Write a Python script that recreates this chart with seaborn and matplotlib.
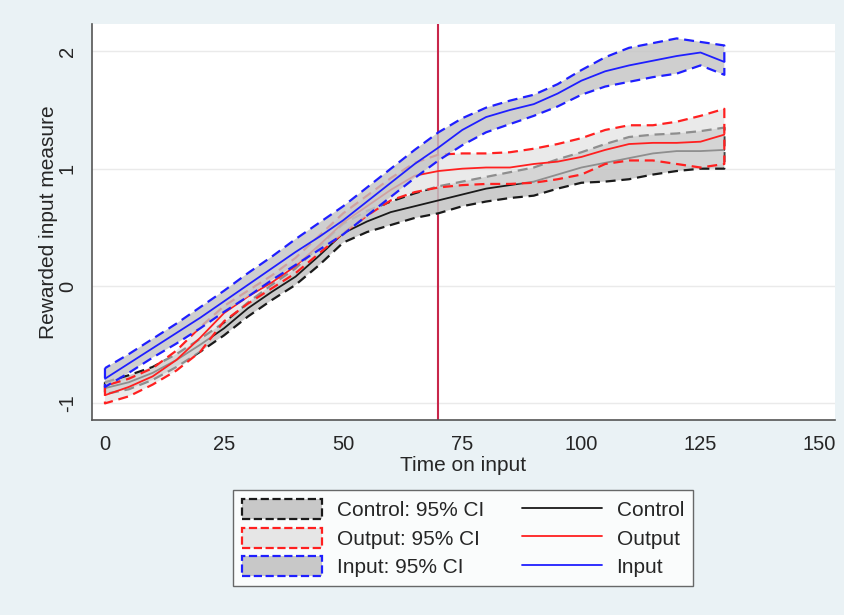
import matplotlib
matplotlib.use("Agg")
import matplotlib.pyplot as plt
from matplotlib.patches import Patch
from matplotlib.lines import Line2D
from matplotlib.colors import to_rgba
import seaborn as sns

# time on input (every 5 units)
time = [0, 5, 10, 15, 20, 25, 30, 35, 40, 45, 50, 55, 60, 65, 70,
        75, 80, 85, 90, 95, 100, 105, 110, 115, 120, 125, 130]

control = [-0.87, -0.82, -0.74, -0.63, -0.50, -0.36, -0.19, -0.05, 0.08, 0.26, 0.45, 0.55, 0.63, 0.68, 0.73,
           0.78, 0.83, 0.86, 0.89, 0.95, 1.01, 1.05, 1.09, 1.13, 1.15, 1.15, 1.16]
control_hi = [-0.82, -0.76, -0.69, -0.58, -0.45, -0.31, -0.14, 0.01, 0.15, 0.34, 0.53, 0.64, 0.72, 0.79, 0.85,
              0.89, 0.93, 0.97, 1.01, 1.08, 1.14, 1.21, 1.27, 1.29, 1.30, 1.32, 1.35]
control_lo = [-0.92, -0.88, -0.80, -0.69, -0.56, -0.42, -0.26, -0.12, 0.01, 0.18, 0.37, 0.46, 0.52, 0.58, 0.62,
              0.68, 0.72, 0.75, 0.77, 0.83, 0.88, 0.89, 0.91, 0.95, 0.98, 1.00, 1.00]

output = [-0.93, -0.86, -0.77, -0.63, -0.44, -0.23, -0.09, 0.03, 0.17, 0.35, 0.54, 0.68, 0.82, 0.94, 0.98,
          1.00, 1.01, 1.01, 1.04, 1.06, 1.10, 1.16, 1.21, 1.22, 1.22, 1.23, 1.29]
output_hi = [-0.85, -0.79, -0.70, -0.55, -0.35, -0.17, -0.04, 0.09, 0.24, 0.43, 0.62, 0.77, 0.92, 1.05, 1.12,
             1.13, 1.13, 1.14, 1.17, 1.21, 1.26, 1.33, 1.37, 1.37, 1.40, 1.45, 1.51]
output_lo = [-1.00, -0.94, -0.84, -0.72, -0.56, -0.30, -0.15, -0.02, 0.11, 0.28, 0.45, 0.60, 0.73, 0.80, 0.84,
             0.86, 0.87, 0.87, 0.88, 0.91, 0.95, 1.04, 1.07, 1.07, 1.04, 1.01, 1.04]

inp = [-0.79, -0.66, -0.53, -0.40, -0.27, -0.13, 0.01, 0.15, 0.29, 0.42, 0.56, 0.72, 0.88, 1.04, 1.18,
       1.33, 1.44, 1.50, 1.55, 1.64, 1.75, 1.83, 1.88, 1.92, 1.96, 1.99, 1.91]
inp_hi = [-0.70, -0.58, -0.45, -0.32, -0.18, -0.04, 0.11, 0.25, 0.40, 0.54, 0.68, 0.84, 1.00, 1.16, 1.31,
          1.43, 1.52, 1.58, 1.63, 1.72, 1.84, 1.95, 2.03, 2.07, 2.11, 2.08, 2.05]
inp_lo = [-0.86, -0.74, -0.61, -0.49, -0.36, -0.22, -0.09, 0.05, 0.18, 0.31, 0.44, 0.60, 0.76, 0.92, 1.07,
          1.20, 1.31, 1.38, 1.45, 1.53, 1.63, 1.70, 1.74, 1.78, 1.81, 1.88, 1.80]

cutoff = 70
xticks = [0, 25, 50, 75, 100, 125, 150]
yticks = [-1, 0, 1, 2]

bg = "#eaf2f5"
dash = (0, (4.5, 2.6))
black, red, blue = "#1a1a1a", "#ff2020", "#1f1fff"

sns.set_style("white")
plt.rcParams["font.family"] = ["Liberation Sans", "DejaVu Sans"]

fig = plt.figure(figsize=(8.45, 6.15), dpi=100, facecolor=bg)
ax = fig.add_axes([0.109, 0.317, 0.879, 0.644])
ax.set_facecolor("white")

ax.axvline(cutoff, color="#c8264a", lw=1.5, zorder=1)

# control
ax.fill_between(time, control_lo, control_hi, facecolor=to_rgba("#c4c4c4", 0.85),
                edgecolor=black, linestyle=dash, linewidth=1.6, zorder=2)
sns.lineplot(x=time, y=control, color=black, lw=1.3, ax=ax, zorder=3)
# output
ax.fill_between(time, output_lo, output_hi, facecolor=to_rgba("#dcdcdc", 0.6),
                edgecolor=red, linestyle=dash, linewidth=1.6, zorder=4)
sns.lineplot(x=time, y=output, color=red, lw=1.3, ax=ax, zorder=5)
# input
ax.fill_between(time, inp_lo, inp_hi, facecolor=to_rgba("#c4c4c4", 0.8),
                edgecolor=blue, linestyle=dash, linewidth=1.6, zorder=6)
sns.lineplot(x=time, y=inp, color=blue, lw=1.3, ax=ax, zorder=7)

ax.set_xlim(-2.7, 153.2)
ax.set_ylim(-1.142, 2.233)
ax.set_xticks(xticks)
ax.set_yticks(yticks)
ax.set_yticklabels([str(v) for v in yticks], rotation=90, va="center")
ax.tick_params(axis="both", labelsize=14.5, length=6, width=1, color="#555555", pad=5)
ax.grid(axis="y", color="#eaeaea", lw=1)
ax.grid(axis="x", visible=False)
for s in ["top", "right"]:
    ax.spines[s].set_visible(False)
for s in ["left", "bottom"]:
    ax.spines[s].set_color("#555555")
    ax.spines[s].set_linewidth(1.2)
ax.set_xlabel("Time on input", fontsize=15, labelpad=1)
ax.set_ylabel("Rewarded input measure", fontsize=15, labelpad=0)

handles = [
    Patch(facecolor="#c8c8c8", edgecolor=black, linestyle="--", linewidth=1.6),
    Patch(facecolor="#e6e6e6", edgecolor=red, linestyle="--", linewidth=1.6),
    Patch(facecolor="#c8c8c8", edgecolor=blue, linestyle="--", linewidth=1.6),
    Line2D([], [], color=black, lw=1.3),
    Line2D([], [], color=red, lw=1.3),
    Line2D([], [], color=blue, lw=1.3),
]
labels = ["Control: 95% CI", "Output: 95% CI", "Input: 95% CI", "Control", "Output", "Input"]
leg = fig.legend(handles, labels, ncol=2, loc="center", bbox_to_anchor=(0.548, 0.125),
                 fontsize=15, frameon=True, fancybox=False, handlelength=3.85, handleheight=1.1,
                 columnspacing=1.8, labelspacing=0.36, borderpad=0.42, handletextpad=0.7)
leg.get_frame().set_edgecolor("#444444")
leg.get_frame().set_linewidth(1.0)

fig.savefig("out.png", dpi=100, facecolor=bg)
